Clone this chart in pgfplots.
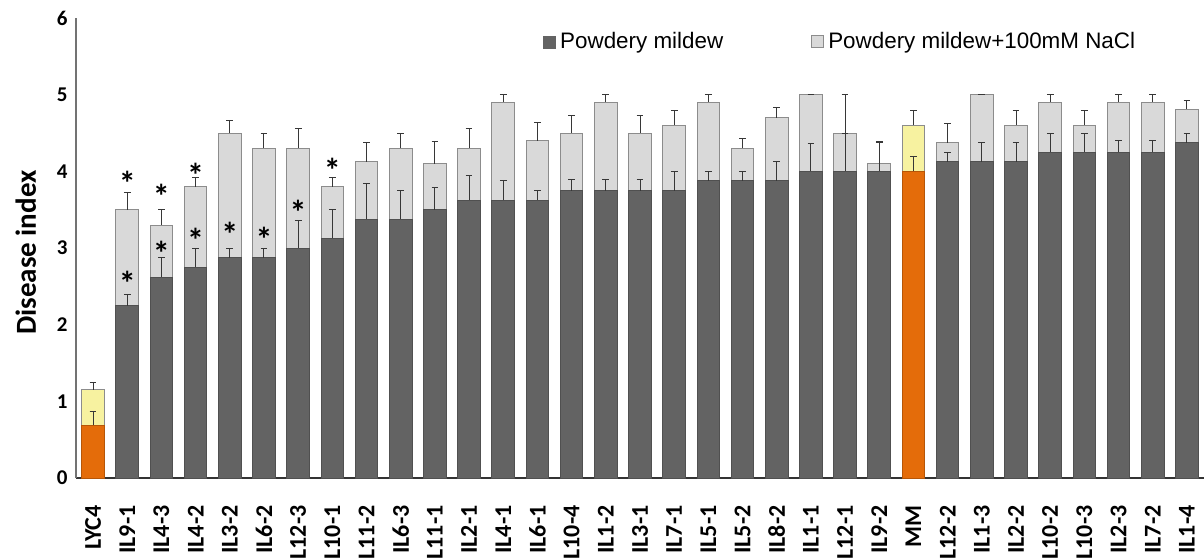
\documentclass[border=0pt]{standalone}
\usepackage{pgfplots}
\pgfplotsset{compat=1.18}
\usepackage{pgfplotstable}
\usepackage{fontspec}
\setmainfont{Carlito}
\newfontfamily\legfont{Liberation Sans}

\definecolor{pmdark}{RGB}{99,99,99}
\definecolor{pmdarkedge}{RGB}{80,80,80}
\definecolor{pmlight}{RGB}{217,217,217}
\definecolor{pmlightedge}{RGB}{140,140,140}
\definecolor{pmorange}{RGB}{228,108,10}
\definecolor{pmyellow}{RGB}{247,242,160}
\definecolor{errc}{RGB}{55,55,55}

\pgfplotstableread{
x pm pmerr nacl naclerr
0 0.69 0.18 1.15 0.10
1 2.25 0.15 3.50 0.22
2 2.62 0.25 3.30 0.20
3 2.75 0.25 3.80 0.12
4 2.875 0.125 4.50 0.16
5 2.875 0.125 4.30 0.20
6 3.00 0.36 4.30 0.26
7 3.125 0.375 3.80 0.12
8 3.375 0.47 4.125 0.25
9 3.375 0.375 4.30 0.20
10 3.50 0.29 4.10 0.29
11 3.625 0.32 4.30 0.26
12 3.625 0.25 4.90 0.10
13 3.625 0.125 4.40 0.24
14 3.75 0.14 4.50 0.23
15 3.75 0.14 4.90 0.10
16 3.75 0.14 4.50 0.23
17 3.75 0.25 4.60 0.19
18 3.875 0.125 4.90 0.10
19 3.875 0.125 4.30 0.13
20 3.875 0.25 4.70 0.13
21 4.00 0.36 5.00 0.00
22 4.00 0.50 4.50 0.50
23 4.00 0.37 4.10 0.29
24 4.00 0.20 4.60 0.19
25 4.125 0.125 4.37 0.25
26 4.125 0.25 5.00 0.00
27 4.125 0.25 4.60 0.19
28 4.25 0.25 4.90 0.10
29 4.25 0.25 4.60 0.19
30 4.25 0.15 4.90 0.10
31 4.25 0.15 4.90 0.10
32 4.375 0.125 4.81 0.12
}\data

\pgfplotstableread{
x pm pmerr nacl naclerr
0 0.69 0.18 1.15 0.10
24 4.00 0.20 4.60 0.19
}\hl

% asterisk baselines
\pgfplotstableread{
x y
1 3.68
1 2.38
2 3.52
2 2.77
3 3.79
3 2.94
4 3.02
5 2.96
6 3.31
7 3.85
}\stars

\begin{document}
\begin{tikzpicture}
\begin{axis}[
  at={(0,0)}, anchor=south west,
  scale only axis,
  width=564pt, height=230pt,
  xmin=-0.5, xmax=32.5,
  ymin=0, ymax=6,
  axis x line*=bottom, axis y line*=left,
  x axis line style={draw=black!80, line width=0.6pt, -},
  y axis line style={draw=black!55, line width=0.6pt, -},
  xtick={0,...,32},
  xticklabels={LYC4,IL9-1,IL4-3,IL4-2,IL3-2,IL6-2,IL12-3,IL10-1,IL11-2,IL6-3,IL11-1,IL2-1,IL4-1,IL6-1,IL10-4,IL1-2,IL3-1,IL7-1,IL5-1,IL5-2,IL8-2,IL1-1,IL12-1,IL9-2,MM,IL12-2,IL1-3,IL2-2,IL10-2,IL10-3,IL2-3,IL7-2,IL1-4},
  ytick={0,1,2,3,4,5,6},
  major tick length=0pt,
  /pgf/number format/assume math mode=true,
  xticklabel style={rotate=90, anchor=east, font=\fontsize{12}{13}\selectfont\bfseries, inner sep=0pt, xshift=-13.5pt},
  yticklabel style={font=\fontsize{10.5}{12}\selectfont\bfseries, inner sep=0pt, xshift=-4pt},
  ylabel={Disease index},
  every axis y label/.style={at={(axis description cs:-0.0445,0.49)}, rotate=90, anchor=center, font=\fontsize{14.5}{16}\selectfont\bfseries},
  legend style={at={(axis description cs:0.414,0.948)}, anchor=west, draw=none, fill=none, inner sep=0pt,
    font=\legfont\fontsize{11.2}{13}\selectfont,
    /tikz/every even column/.append style={column sep=42pt}},
  legend columns=2,
  legend cell align=left,
]
% NaCl bars (behind)
\addplot[ybar, bar width=0.66, bar shift=0pt, fill=pmlight, draw=pmlightedge, line width=0.5pt, forget plot,
  error bars/.cd, y dir=plus, y explicit,
  error bar style={line width=0.5pt, draw=errc},
  error mark options={rotate=90, mark size=1.7pt, line width=0.5pt, draw=errc}]
  table[x=x, y=nacl, y error=naclerr]{\data};
\addplot[ybar, bar width=0.66, bar shift=0pt, fill=pmyellow, draw=pmlightedge, line width=0.5pt, forget plot,
  error bars/.cd, y dir=plus, y explicit,
  error bar style={line width=0.5pt, draw=errc},
  error mark options={rotate=90, mark size=1.7pt, line width=0.5pt, draw=errc}]
  table[x=x, y=nacl, y error=naclerr]{\hl};
% Powdery mildew bars (front)
\addplot[ybar, bar width=0.66, bar shift=0pt, fill=pmdark, draw=pmdarkedge, line width=0.5pt, forget plot,
  error bars/.cd, y dir=plus, y explicit,
  error bar style={line width=0.5pt, draw=errc},
  error mark options={rotate=90, mark size=1.7pt, line width=0.5pt, draw=errc}]
  table[x=x, y=pm, y error=pmerr]{\data};
\addplot[ybar, bar width=0.66, bar shift=0pt, fill=pmorange, draw=pmorange!80!black, line width=0.5pt, forget plot,
  error bars/.cd, y dir=plus, y explicit,
  error bar style={line width=0.5pt, draw=errc},
  error mark options={rotate=90, mark size=1.7pt, line width=0.5pt, draw=errc}]
  table[x=x, y=pm, y error=pmerr]{\hl};
% significance asterisks
\addplot[draw=none, mark=none, forget plot,
  nodes near coords={*},
  every node near coord/.append style={anchor=base, inner sep=0pt, font=\fontsize{17}{17}\selectfont\bfseries}]
  table[x=x, y=y]{\stars};
\addlegendimage{legend image code/.code={\fill[pmdark] (0pt,-3pt) rectangle (6pt,3pt);}}
\addlegendentry{Powdery mildew}
\addlegendimage{legend image code/.code={\filldraw[fill=pmlight, draw=pmlightedge, line width=0.5pt] (0pt,-3pt) rectangle (6pt,3pt);}}
\addlegendentry{Powdery mildew+100mM NaCl}
\end{axis}
\pgfresetboundingbox
\path[use as bounding box] (-38pt,-40pt) rectangle (564pt,239pt);
\end{tikzpicture}
\end{document}
